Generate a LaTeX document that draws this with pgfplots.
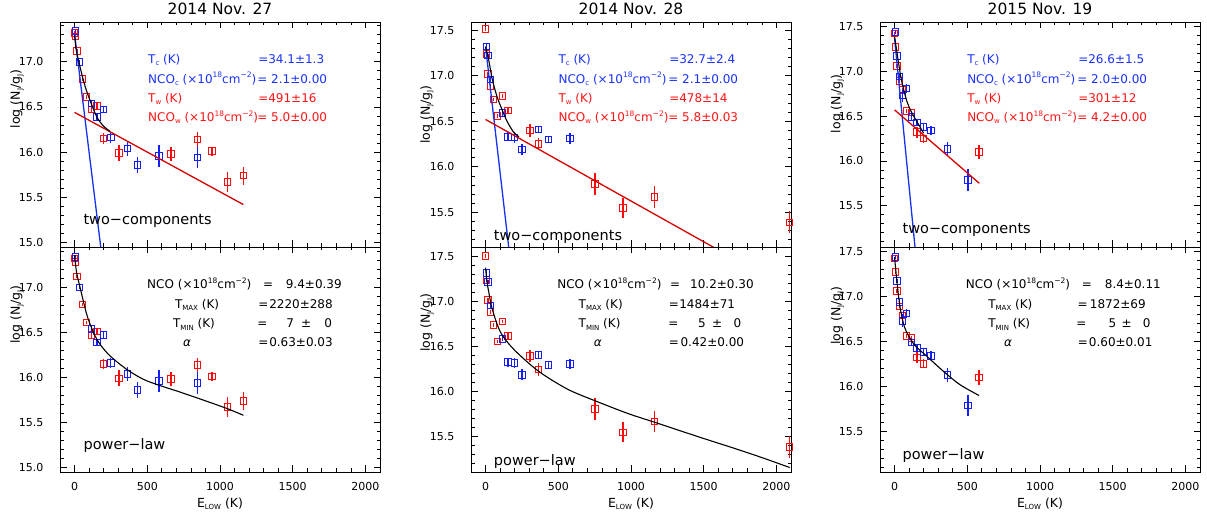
\documentclass[border=0pt]{standalone}
\usepackage{pgfplots}
\pgfplotsset{compat=1.18}
\usepackage{pgfplotstable}
\usepackage{fontspec}
\setmainfont{DejaVu Sans}

\definecolor{ptred}{RGB}{255,10,10}
\definecolor{ptblue}{RGB}{20,30,255}
\definecolor{fitred}{RGB}{215,0,0}
\definecolor{fitblue}{RGB}{20,50,240}
\definecolor{tred}{RGB}{255,20,20}
\definecolor{tblue}{RGB}{25,50,255}

\newcommand{\sub}[1]{\raisebox{-0.35ex}{\fontsize{7}{7}\selectfont #1}}
\newcommand{\sups}[1]{\raisebox{0.85ex}{\fontsize{7.5}{7.5}\selectfont #1}}

% ---------- 2014 Nov. 27 : E_low (K), log(N_J/g_J), error ----------
\pgfplotstableread{
E      L      dL
0      17.32  0.02
5.5    17.28  0.02
16.6   17.12  0.02
33.2   17.00  0.02
55.3   16.81  0.02
83.0   16.61  0.02
116.2  16.47  0.03
154.9  16.51  0.03
199.2  16.15  0.06
304.3  15.99  0.09
663.8  15.98  0.08
846.4  16.14  0.08
945.9  16.01  0.05
1051   15.67  0.11
1162   15.74  0.10
}\redA
\pgfplotstableread{
E      L      dL
5.5    17.34  0.02
33.2   17.00  0.02
116.2  16.54  0.03
154.9  16.39  0.04
199.2  16.47  0.03
248.9  16.16  0.06
365.1  16.04  0.08
431.5  15.86  0.09
580.9  15.96  0.12
846.4  15.94  0.12
}\blueA

% ---------- 2014 Nov. 28 ----------
\pgfplotstableread{
E      L      dL
0      17.51  0.02
5.5    17.24  0.02
16.6   17.02  0.02
33.2   16.89  0.02
55.3   16.74  0.02
83.0   16.56  0.02
116.2  16.78  0.02
154.9  16.62  0.04
199.2  16.32  0.06
304.3  16.40  0.07
365.1  16.25  0.07
752.3  15.81  0.12
945.9  15.55  0.11
1162   15.67  0.12
2091   15.39  0.12
}\redB
\pgfplotstableread{
E      L      dL
5.5    17.32  0.03
16.6   17.22  0.02
33.2   16.96  0.03
116.2  16.59  0.03
154.9  16.33  0.05
199.2  16.32  0.06
248.9  16.19  0.06
365.1  16.41  0.04
431.5  16.30  0.04
580.9  16.31  0.06
}\blueB

% ---------- 2015 Nov. 19 ----------
\pgfplotstableread{
E      L      dL
0      17.42  0.02
5.5    17.27  0.02
16.6   17.06  0.02
33.2   16.89  0.02
55.3   16.79  0.02
83.0   16.56  0.02
116.2  16.54  0.02
154.9  16.32  0.06
199.2  16.25  0.05
580.9  16.10  0.08
}\redC
\pgfplotstableread{
E      L      dL
5.5    17.44  0.02
16.6   17.17  0.02
33.2   16.94  0.03
55.3   16.73  0.07
83.0   16.81  0.05
116.2  16.49  0.03
154.9  16.43  0.04
199.2  16.38  0.04
248.9  16.34  0.05
365.1  16.13  0.08
503.4  15.79  0.12
}\blueC

\pgfplotsset{
  every axis title shift=0pt,
  panel/.style={
    scale only axis, width=320pt, height=225pt,
    clip mode=individual,
    xmin=-100, xmax=2100,
    xtick={0,500,1000,1500,2000}, minor x tick num=4,
    ytick={15,15.5,16,16.5,17,17.5}, minor y tick num=4,
    tick align=inside, major tick length=6.5pt, minor tick length=3.5pt,
    axis line style={line width=0.9pt},
    every tick/.append style={line width=0.8pt, black},
    /pgf/number format/assume math mode=true,
    ticklabel style={font=\fontsize{11}{12}\selectfont},
    yticklabel style={/pgf/number format/fixed, /pgf/number format/fixed zerofill,
      /pgf/number format/precision=1, xshift=-13pt},
    xticklabel style={/pgf/number format/1000 sep={}, yshift=-6.5pt},
    scaled y ticks=false, scaled x ticks=false,
    label style={font=\fontsize{12.5}{14}\selectfont},
    xlabel style={at={(0.5,0)}, anchor=base, yshift=-35pt},
    title style={at={(0.5,1)}, anchor=base, yshift=7pt, font=\fontsize{15.5}{18}\selectfont},
  },
  toppanel/.style={panel, xticklabels={}, at={(#1,272pt)}, anchor=south west},
  botpanel/.style={panel, at={(#1,47pt)}, anchor=south west, xlabel={E\sub{LOW} (K)}},
  ptsred/.style={only marks, mark=square, mark size=3.3pt, color=ptred,
    mark options={line width=1pt, solid},
    error bars/.cd, y dir=both, y explicit, error mark=none,
    error bar style={line width=1.5pt}},
  ptsblue/.style={only marks, mark=square, mark size=3.3pt, color=ptblue,
    mark options={line width=1pt, solid},
    error bars/.cd, y dir=both, y explicit, error mark=none,
    error bar style={line width=1.5pt}},
  fitline/.style={no markers, line width=1.3pt},
}
\tikzset{
  ann/.style={anchor=base west, inner sep=0pt, font=\fontsize{12}{14}\selectfont},
  annR/.style={anchor=base east, inner sep=0pt, font=\fontsize{12}{14}\selectfont},
  annC/.style={anchor=base, inner sep=0pt, font=\fontsize{12}{14}\selectfont},
  tag/.style={anchor=base west, inner sep=0pt, font=\fontsize{14.5}{16}\selectfont},
  ylab/.style={rotate=90, anchor=center, inner sep=0pt, font=\fontsize{12.5}{14}\selectfont},
}
\newcommand{\ylabtext}{log (N\sub{J}/g\sub{J})}

\begin{document}
\begin{tikzpicture}
\path[use as bounding box] (0,0) rectangle (1207pt,519pt);

% ================= column 1 : 2014 Nov. 27 =================
\begin{axis}[toppanel=60pt, ymin=14.95, ymax=17.44, title={2014 Nov. 27}]
\addplot[ptsred] table[x=E, y=L, y error=dL] {\redA};
\addplot[ptsblue] table[x=E, y=L, y error=dL] {\blueA};
\addplot[fitline, fitblue] coordinates {(0,17.31) (190,14.82)};
\addplot[fitline, fitred] coordinates {(0,16.44) (1160,15.42)};
\addplot[fitline, black, line width=1.1pt, smooth] coordinates {(0,17.29) (10,17.15) (20,17.06) (38,16.94) (72,16.73) (107,16.57) (153,16.39) (198,16.29) (244,16.23)};
\node[ylab] at (rel axis cs:-0.134,0.658) {\ylabtext};
\node[ann, text=tblue] at (rel axis cs:0.275,0.816) {T\sub{c} (K)};
\node[ann, text=tblue] at (rel axis cs:0.619,0.816) {=34.1±1.3};
\node[ann, text=tblue] at (rel axis cs:0.275,0.728) {NCO\sub{c} (×10\sups{18}cm\sups{−2})};
\node[ann, text=tblue] at (rel axis cs:0.616,0.728) {= 2.1±0.00};
\node[ann, text=tred] at (rel axis cs:0.275,0.643) {T\sub{w} (K)};
\node[ann, text=tred] at (rel axis cs:0.619,0.643) {=491±16};
\node[ann, text=tred] at (rel axis cs:0.275,0.557) {NCO\sub{w} (×10\sups{18}cm\sups{−2})};
\node[ann, text=tred] at (rel axis cs:0.616,0.557) {= 5.0±0.00};
\node[tag] at (rel axis cs:0.073,0.102) {two−components};
\end{axis}

\begin{axis}[botpanel=60pt, ymin=14.95, ymax=17.45]
\addplot[ptsred] table[x=E, y=L, y error=dL] {\redA};
\addplot[ptsblue] table[x=E, y=L, y error=dL] {\blueA};
\addplot[fitline, black, line width=1.1pt, smooth] coordinates {(0,17.36) (8,17.24) (17,17.14) (38,17.00) (84,16.70) (130,16.50) (175,16.37) (244,16.24) (359,16.09) (473,15.98) (588,15.91) (703,15.85) (830,15.78) (954,15.71) (1057,15.65) (1161,15.58)};
\node[ylab] at (rel axis cs:-0.134,0.70) {\ylabtext};
\node[ann] at (rel axis cs:0.272,0.814) {NCO (×10\sups{18}cm\sups{−2})};
\node[ann] at (rel axis cs:0.634,0.814) {=};
\node[annR] at (rel axis cs:0.881,0.814) {9.4±0.39};
\node[ann] at (rel axis cs:0.359,0.726) {T\sub{MAX} (K)};
\node[ann] at (rel axis cs:0.619,0.726) {=};
\node[annR] at (rel axis cs:0.853,0.726) {2220±288};
\node[ann] at (rel axis cs:0.353,0.641) {T\sub{MIN} (K)};
\node[ann] at (rel axis cs:0.616,0.641) {=};
\node[annC] at (rel axis cs:0.719,0.641) {7};
\node[annC] at (rel axis cs:0.769,0.641) {±};
\node[annC] at (rel axis cs:0.838,0.641) {0};
\node[ann] at (rel axis cs:0.384,0.556) {\textit{α}};
\node[ann] at (rel axis cs:0.619,0.556) {=};
\node[annR] at (rel axis cs:0.853,0.556) {0.63±0.03};
\node[tag] at (rel axis cs:0.073,0.099) {power−law};
\end{axis}

% ================= column 2 : 2014 Nov. 28 =================
\begin{axis}[toppanel=471pt, ymin=15.12, ymax=17.59, title={2014 Nov. 28}]
\addplot[ptsred] table[x=E, y=L, y error=dL] {\redB};
\addplot[ptsblue] table[x=E, y=L, y error=dL] {\blueB};
\addplot[fitline, fitblue] coordinates {(0,17.32) (175,14.90)};
\addplot[fitline, fitred] coordinates {(0,16.52) (1620,15.07)};
\addplot[fitline, black, line width=1.1pt, smooth] coordinates {(0,17.32) (21,17.18) (45,16.97) (79,16.77) (113,16.63) (148,16.50) (193,16.38) (230,16.33)};
\node[ylab] at (rel axis cs:-0.1375,0.588) {\ylabtext};
\node[ann, text=tblue] at (rel axis cs:0.273,0.816) {T\sub{c} (K)};
\node[ann, text=tblue] at (rel axis cs:0.619,0.816) {=32.7±2.4};
\node[ann, text=tblue] at (rel axis cs:0.273,0.728) {NCO\sub{c} (×10\sups{18}cm\sups{−2})};
\node[ann, text=tblue] at (rel axis cs:0.616,0.728) {= 2.1±0.00};
\node[ann, text=tred] at (rel axis cs:0.273,0.643) {T\sub{w} (K)};
\node[ann, text=tred] at (rel axis cs:0.619,0.643) {=478±14};
\node[ann, text=tred] at (rel axis cs:0.273,0.557) {NCO\sub{w} (×10\sups{18}cm\sups{−2})};
\node[ann, text=tred] at (rel axis cs:0.616,0.557) {= 5.8±0.03};
\node[tag] at (rel axis cs:0.071,0.030) {two−components};
\end{axis}

\begin{axis}[botpanel=471pt, ymin=15.11, ymax=17.61]
\addplot[ptsred] table[x=E, y=L, y error=dL] {\redB};
\addplot[ptsblue] table[x=E, y=L, y error=dL] {\blueB};
\addplot[fitline, black, line width=1.1pt, smooth] coordinates {(0,17.38) (10,17.22) (21,17.12) (46,16.92) (104,16.66) (196,16.47) (364,16.23) (564,16.03) (755,15.90) (979,15.76) (1167,15.66) (1485,15.49) (1716,15.37) (1900,15.27) (2091,15.16)};
\node[ylab] at (rel axis cs:-0.1375,0.664) {\ylabtext};
\node[ann] at (rel axis cs:0.269,0.814) {NCO (×10\sups{18}cm\sups{−2})};
\node[ann] at (rel axis cs:0.622,0.814) {=};
\node[annR] at (rel axis cs:0.884,0.814) {10.2±0.30};
\node[ann] at (rel axis cs:0.336,0.726) {T\sub{MAX} (K)};
\node[ann] at (rel axis cs:0.618,0.726) {=};
\node[annR] at (rel axis cs:0.826,0.726) {1484±71};
\node[ann] at (rel axis cs:0.336,0.641) {T\sub{MIN} (K)};
\node[ann] at (rel axis cs:0.616,0.641) {=};
\node[annC] at (rel axis cs:0.722,0.641) {5};
\node[annC] at (rel axis cs:0.769,0.641) {±};
\node[annC] at (rel axis cs:0.833,0.641) {0};
\node[ann] at (rel axis cs:0.383,0.556) {\textit{α}};
\node[ann] at (rel axis cs:0.618,0.556) {=};
\node[annR] at (rel axis cs:0.854,0.556) {0.42±0.00};
\node[tag] at (rel axis cs:0.071,0.028) {power−law};
\end{axis}

% ================= column 3 : 2015 Nov. 19 =================
\begin{axis}[toppanel=880pt, ymin=15.04, ymax=17.55, title={2015 Nov. 19}]
\addplot[ptsred] table[x=E, y=L, y error=dL] {\redC};
\addplot[ptsblue] table[x=E, y=L, y error=dL] {\blueC};
\addplot[fitline, fitblue] coordinates {(0,17.37) (155,14.80)};
\addplot[fitline, fitred] coordinates {(0,16.57) (583,15.75)};
\addplot[fitline, black, line width=1.1pt, smooth] coordinates {(0,17.39) (26,17.11) (49,16.89) (84,16.67) (118,16.54) (164,16.41) (200,16.31)};
\node[ylab] at (rel axis cs:-0.133,0.636) {\ylabtext};
\node[ann, text=tblue] at (rel axis cs:0.272,0.816) {T\sub{c} (K)};
\node[ann, text=tblue] at (rel axis cs:0.619,0.816) {=26.6±1.5};
\node[ann, text=tblue] at (rel axis cs:0.272,0.728) {NCO\sub{c} (×10\sups{18}cm\sups{−2})};
\node[ann, text=tblue] at (rel axis cs:0.616,0.728) {= 2.0±0.00};
\node[ann, text=tred] at (rel axis cs:0.272,0.643) {T\sub{w} (K)};
\node[ann, text=tred] at (rel axis cs:0.619,0.643) {=301±12};
\node[ann, text=tred] at (rel axis cs:0.272,0.557) {NCO\sub{w} (×10\sups{18}cm\sups{−2})};
\node[ann, text=tred] at (rel axis cs:0.616,0.557) {= 4.2±0.00};
\node[tag] at (rel axis cs:0.070,0.061) {two−components};
\end{axis}

\begin{axis}[botpanel=880pt, ymin=15.05, ymax=17.55]
\addplot[ptsred] table[x=E, y=L, y error=dL] {\redC};
\addplot[ptsblue] table[x=E, y=L, y error=dL] {\blueC};
\addplot[fitline, black, line width=1.1pt, smooth] coordinates {(0,17.44) (16,17.17) (35,16.91) (58,16.72) (81,16.61) (138,16.46) (219,16.34) (335,16.17) (450,16.02) (581,15.90)};
\node[ylab] at (rel axis cs:-0.133,0.695) {\ylabtext};
\node[ann] at (rel axis cs:0.268,0.814) {NCO (×10\sups{18}cm\sups{−2})};
\node[ann] at (rel axis cs:0.630,0.814) {=};
\node[annR] at (rel axis cs:0.878,0.814) {8.4±0.11};
\node[ann] at (rel axis cs:0.338,0.726) {T\sub{MAX} (K)};
\node[ann] at (rel axis cs:0.617,0.726) {=};
\node[annR] at (rel axis cs:0.831,0.726) {1872±69};
\node[ann] at (rel axis cs:0.338,0.641) {T\sub{MIN} (K)};
\node[ann] at (rel axis cs:0.613,0.641) {=};
\node[annC] at (rel axis cs:0.726,0.641) {5};
\node[annC] at (rel axis cs:0.771,0.641) {±};
\node[annC] at (rel axis cs:0.833,0.641) {0};
\node[ann] at (rel axis cs:0.3875,0.556) {\textit{α}};
\node[ann] at (rel axis cs:0.618,0.556) {=};
\node[annR] at (rel axis cs:0.852,0.556) {0.60±0.01};
\node[tag] at (rel axis cs:0.070,0.054) {power−law};
\end{axis}
\end{tikzpicture}
\end{document}
